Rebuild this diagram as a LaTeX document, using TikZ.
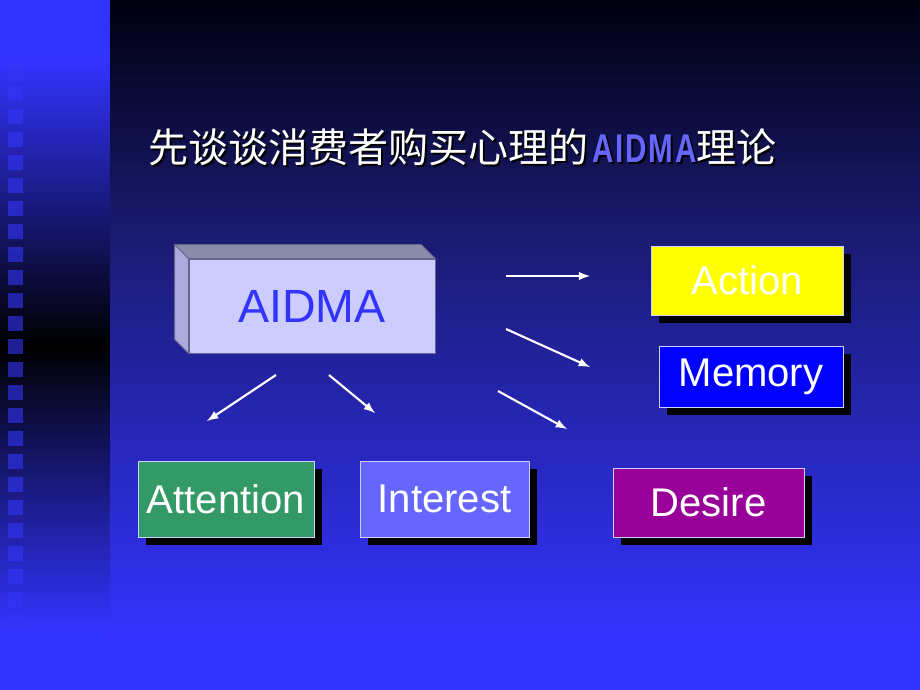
\documentclass[tikz,border=0pt]{standalone}
\usepackage{fontspec}
\setmainfont{Liberation Sans}
\newfontfamily\cjk{Noto Sans CJK SC}
\newfontfamily\narrowfont[FakeStretch=0.74]{Liberation Sans}
\usetikzlibrary{arrows,shadows}

\definecolor{slideblue}{HTML}{3333FF}
\definecolor{slidemid}{HTML}{1A1A70}
\definecolor{slidedark}{HTML}{000010}
\definecolor{squarecol}{HTML}{3434F8}
\definecolor{boxface}{HTML}{CCCCFF}
\definecolor{boxtop}{HTML}{8A8AAA}
\definecolor{boxside}{HTML}{AAAADD}
\definecolor{boxedge}{HTML}{66668A}
\definecolor{boxline}{HTML}{D0D0FF}
\definecolor{actioncol}{HTML}{FFFF00}
\definecolor{memorycol}{HTML}{0000FF}
\definecolor{desirecol}{HTML}{990099}
\definecolor{attentioncol}{HTML}{339966}
\definecolor{interestcol}{HTML}{6666FF}
\definecolor{titleab}{HTML}{6666FF}

\newcommand{\slidetitle}[1]{{\cjk 先谈谈消费者购买心理的}\kern2pt{\narrowfont\bfseries\color{#1}A\kern1pt I\kern1pt D\kern1pt M\kern1pt A}{\cjk 理论}}

\begin{document}
\begin{tikzpicture}[x=0.02cm, y=-0.02cm,
	stage/.style={draw=boxline, line width=0.5pt, text=white, inner sep=0pt,
		font=\fontsize{22.8}{26}\selectfont,
		drop shadow={shadow xshift=0.16cm, shadow yshift=-0.16cm, opacity=1, fill=black}},
	flow/.style={draw=white, line width=1.2pt, -latex}]
	\useasboundingbox (0,0) rectangle (920,690);
	\fill [slideblue] (0,0) rectangle (920,690);
	\shade [top color=slideblue, bottom color=black] (0,60) rectangle (110,345);
	\shade [top color=black, bottom color=slideblue] (0,345) rectangle (110,630);
	\shade [top color=slidedark, bottom color=slidemid] (110,0) rectangle (920,230);
	\shade [top color=slidemid, bottom color=slideblue] (110,230) rectangle (920,640);
	\foreach \i in {0,...,24}
		\fill [squarecol, fill opacity=0.6] (8,63+23*\i) rectangle ++(15,15);

	\node [anchor=base west, inner sep=0pt, text=black] (titleshadow) at (150,164) 
		{\fontsize{22.8}{26}\selectfont\slidetitle{black}};
	\node [anchor=base west, inner sep=0pt, text=white] (title) at (148,162) 
		{\fontsize{22.8}{26}\selectfont\slidetitle{titleab}};

	\node [fill=boxface, draw=boxedge, line width=0.5pt, inner sep=0pt, 
		minimum width=4.92cm, minimum height=1.88cm, text=slideblue, 
		font=\fontsize{26.5}{30}\selectfont] (aidma) at (312,306) 
		{AIDMA};
	\filldraw [fill=boxtop, draw=boxedge, line width=0.5pt] (aidma.north west) -- ++(-14,-14) 
		-- ([shift={(-14,-14)}]aidma.north east) -- (aidma.north east) -- cycle;
	\filldraw [fill=boxside, draw=boxedge, line width=0.5pt] (aidma.north west) -- ++(-14,-14) 
		-- ([shift={(-14,-14)}]aidma.south west) -- (aidma.south west) -- cycle;

	\node [stage, fill=actioncol, minimum width=3.84cm, minimum height=1.38cm] (action) at (747,280.5) 
		{Action};
	\node [stage, fill=memorycol, minimum width=3.68cm, minimum height=1.22cm] (memory) at (751,376.5) 
		{Memory};
	\node [stage, fill=desirecol, minimum width=3.82cm, minimum height=1.38cm] (desire) at (708.5,502.5) 
		{Desire};
	\node [stage, fill=attentioncol, minimum width=3.52cm, minimum height=1.52cm] (attention) at (226,499) 
		{Attention};
	\node [stage, fill=interestcol, minimum width=3.38cm, minimum height=1.52cm] (interest) at (444.5,499) 
		{Interest};

	\coordinate (a1) at (506,276);
	\coordinate (a2) at (590,276);
	\coordinate (m1) at (506,329);
	\coordinate (m2) at (590,367);
	\coordinate (d1) at (498,391);
	\coordinate (d2) at (567,429);
	\coordinate (t1) at (276,375);
	\coordinate (t2) at (207,421);
	\coordinate (i1) at (329,375);
	\coordinate (i2) at (375,413);
	\draw [flow] (a1) to (a2);
	\draw [flow] (m1) to (m2);
	\draw [flow] (d1) to (d2);
	\draw [flow] (t1) to (t2);
	\draw [flow] (i1) to (i2);
\end{tikzpicture}
\end{document}
